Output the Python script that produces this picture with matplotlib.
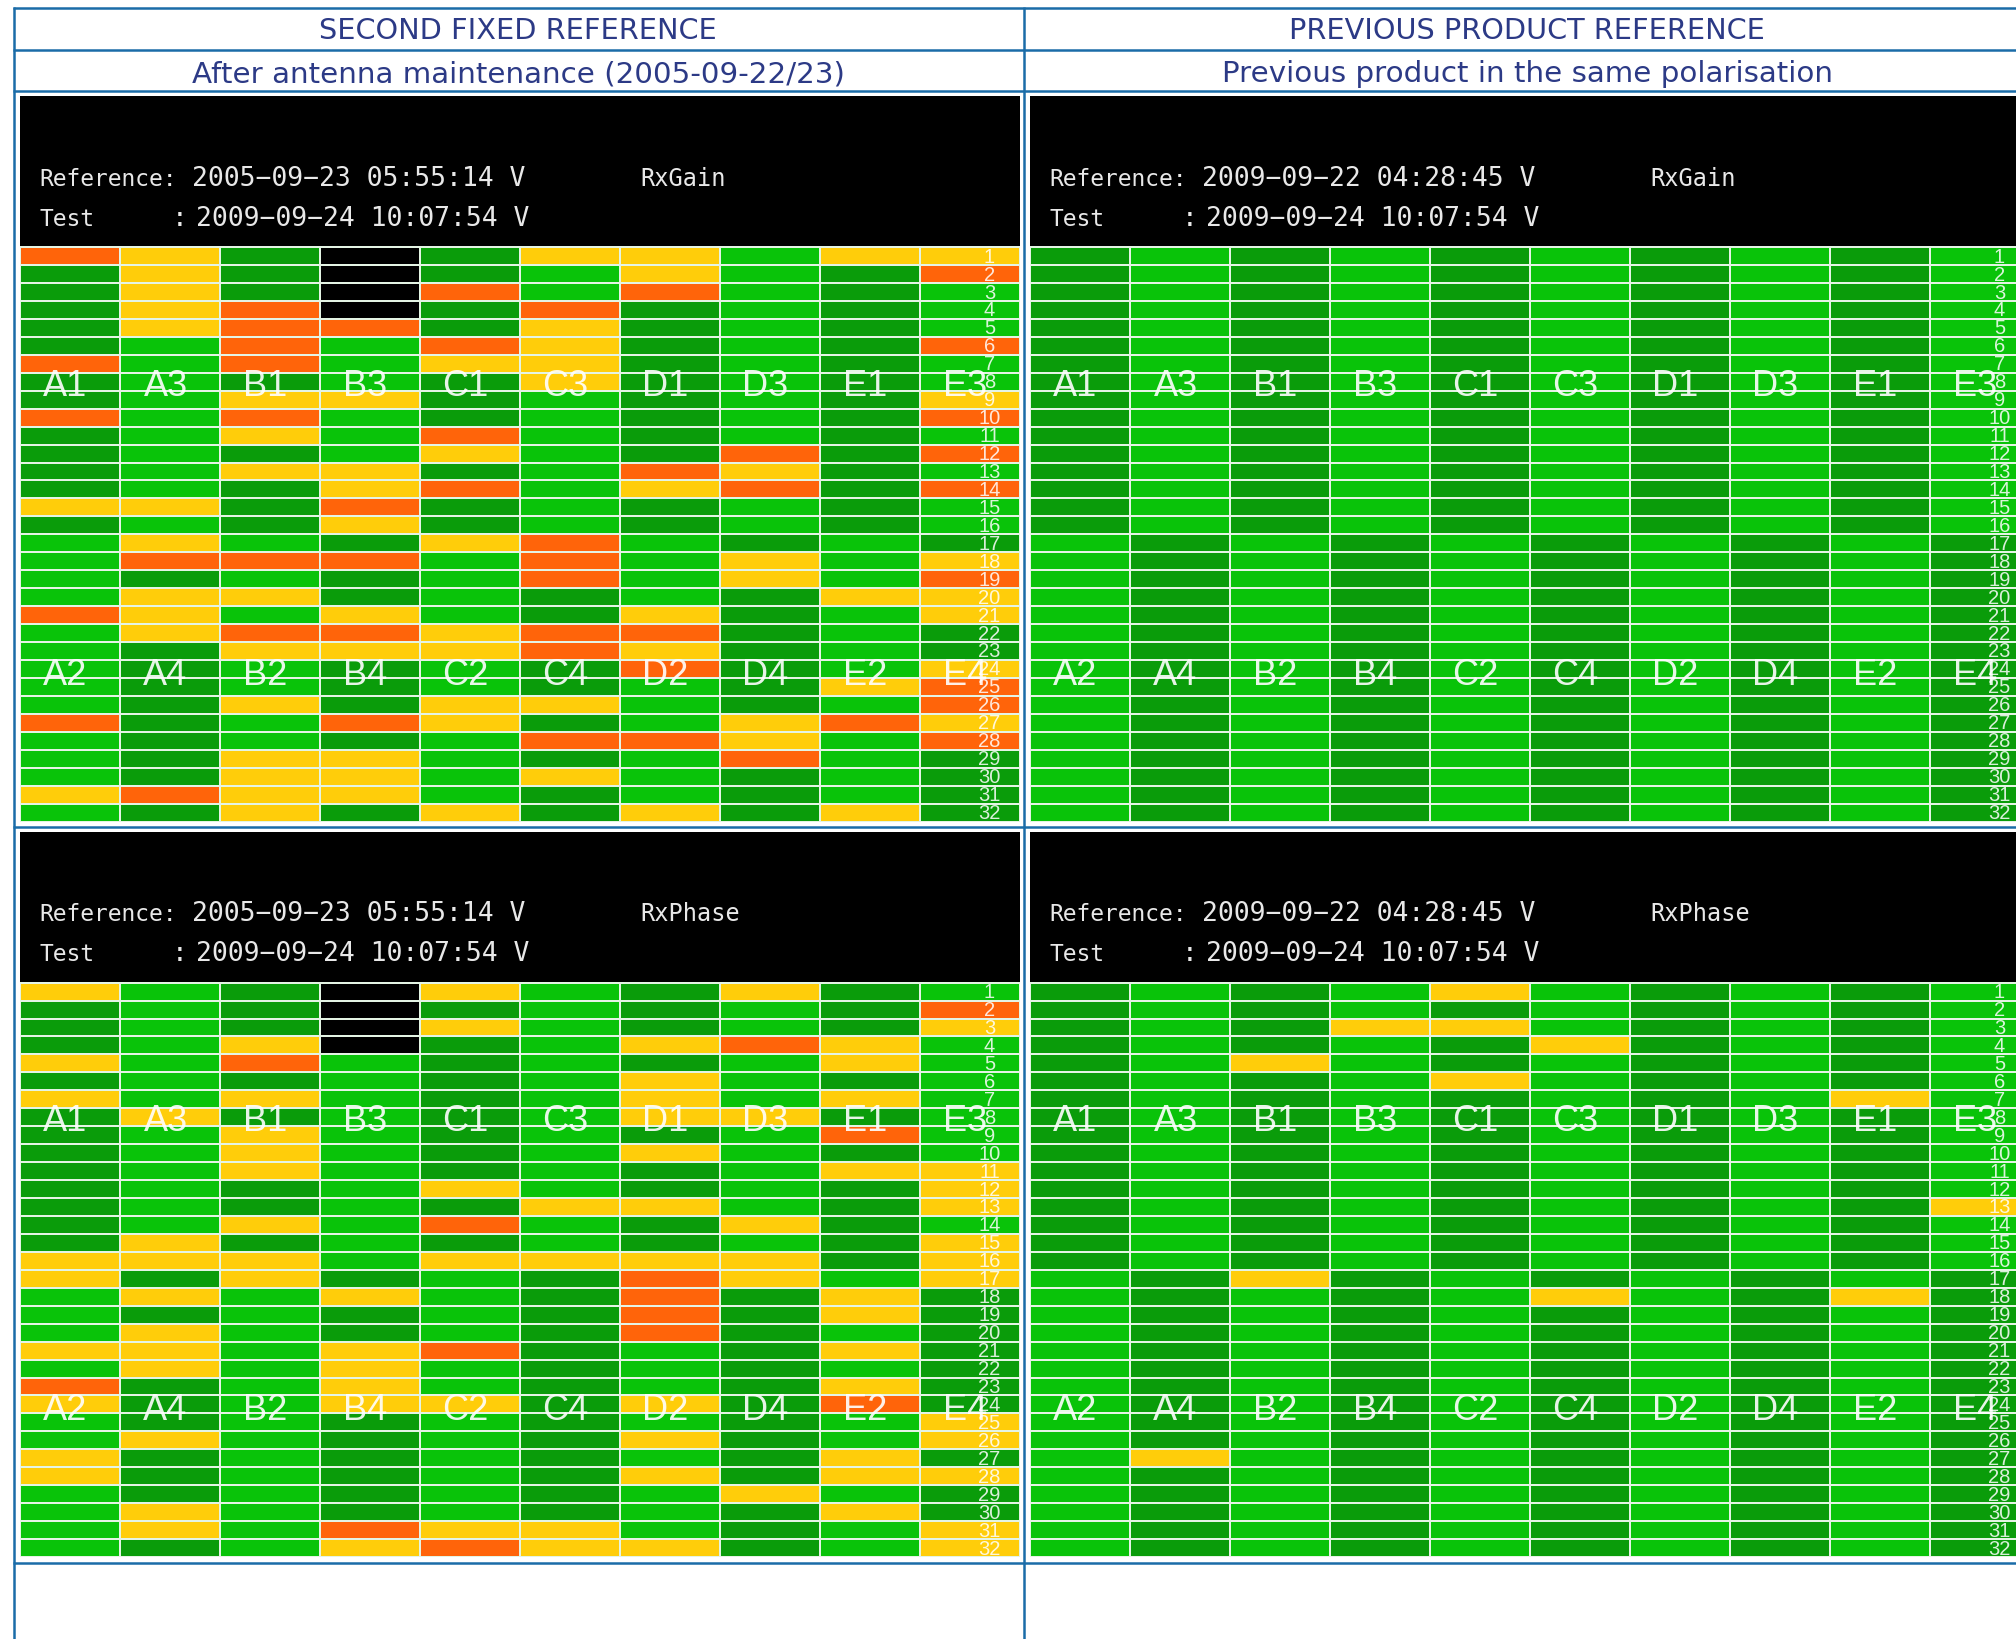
import numpy as np
import matplotlib
matplotlib.use('Agg')
import matplotlib.pyplot as plt
from matplotlib.colors import ListedColormap

# . = ok (green), y = yellow, o = orange, k = no data
gain_second = [
    "oy.k.yy.yy", ".y.k..y..o", ".y.ko.o...", ".yok.o....",
    ".yoo.y....", "..o.oy...o", "o.o.yy....", ".....y....",
    "..yy.....y", "o.o......o", "..y.o.....", "....y..o.o",
    "..yy..oy..", "...yo.yo.o", "yy.o......", "...y......",
    ".y..yo....", ".ooo.o.y.y", ".....o.y.o", ".yy.....yy",
    "oy.y..y..y", ".yooyoo...", "..yyyoy...", "......o..y",
    "........yo", "..y.yy...o", "o..oy..yoy", ".....ooy.o",
    "..yy...o..", "..yy.y....", "yoyy......", "..y.y.y.y.",
]
gain_previous = [".........."] * 32
phase_second = [
    "y..ky..y..", "...k.....o", "...ky....y", "..yk..yoy.",
    "y.o.....y.", "......y...", "y.y...y.y.", ".y....yy..",
    "..y.....o.", "..y...y...", "..y.....yy", "....y....y",
    ".....yy..y", "..y.o..y..", ".y.......y", "yyy.yyyy.y",
    "y.y...oy.y", ".y.y..o.y.", "......o.y.", ".y....o...",
    "yy.yo...y.", ".y.y......", "o..y....y.", "y..yy.y.o.",
    ".........y", ".y....y..y", "y.......y.", "y.....y.yy",
    ".......y..", ".y......y.", ".y.oyy...y", "...yoyy..y",
]
phase_previous = [
    "....y.....", "..........", "...yy.....", ".....y....",
    "..y.......", "....y.....", "........y.", "..........",
    "..........", "..........", "..........", "..........",
    ".........y", "..........", "..........", "..........",
    "..y.......", ".....y..y.", "..........", "..........",
    "..........", "..........", "..........", "..........",
    "..........", "..........", ".y........", "..........",
    "..........", "..........", "..........", "..........",
]

upper_labels = ['A1', 'A3', 'B1', 'B3', 'C1', 'C3', 'D1', 'D3', 'E1', 'E3']
lower_labels = ['A2', 'A4', 'B2', 'B4', 'C2', 'C4', 'D2', 'D4', 'E2', 'E4']
row_numbers = list(range(1, 33))

col_titles = ['SECOND FIXED REFERENCE', 'PREVIOUS PRODUCT REFERENCE']
col_subtitles = ['After antenna maintenance (2005-09-22/23)',
                 'Previous product in the same polarisation']
ref_times = ['2005\u221209\u221223 05:55:14 V', '2009\u221209\u221222 04:28:45 V']
test_time = '2009\u221209\u221224 10:07:54 V'
products = ['RxGain', 'RxPhase']

W, H = 2016, 1640
BLUE = '#1a6ca8'
NAVY = '#2c3a86'
cmap = ListedColormap(['#0a9c0a', '#09c309', '#ffcd0a', '#ff640a', '#000000'])
codes = {'y': 2, 'o': 3, 'k': 4}


def to_grid(rows):
    grid = np.zeros((32, 10), dtype=int)
    for r, row in enumerate(rows):
        for c, ch in enumerate(row):
            if ch == '.':
                # the green shade alternates per antenna tile, and flips at row 17
                grid[r, c] = (c + (r >= 16)) % 2
            else:
                grid[r, c] = codes[ch]
    return grid


def draw_panel(fig, rows, x0, y0):
    # panel is 1000 px wide, 151 px black band on top of a 574 px grid
    ax = fig.add_axes([x0 / W, 1 - (y0 + 725.5) / H, 1000 / W, 725.5 / H])
    ax.set_facecolor('black')
    ax.pcolormesh(np.arange(11), np.arange(33), to_grid(rows), cmap=cmap, vmin=0, vmax=4,
                  edgecolors='#e4f4e4', linewidth=1.3)
    ax.set_xlim(0, 10)
    ax.set_ylim(32, -8.42)
    ax.set_xticks([])
    ax.set_yticks([])
    for s in ax.spines.values():
        s.set_visible(False)
    for i in range(10):
        ax.text(i + 0.46, 7.7, upper_labels[i], color='white', fontsize=26, ha='center',
                va='center', family='Liberation Sans', alpha=0.9)
        ax.text(i + 0.46, 23.8, lower_labels[i], color='white', fontsize=26, ha='center',
                va='center', family='Liberation Sans', alpha=0.9)
    for n in row_numbers:
        ax.text(9.7, n - 0.5, str(n), color='white', fontsize=14.5, ha='center',
                va='center', family='Liberation Sans', alpha=0.85)


fig = plt.figure(figsize=(W / 100, H / 100), dpi=100, facecolor='white')

draw_panel(fig, gain_second, 19.5, 97)
draw_panel(fig, gain_previous, 1029.5, 97)
draw_panel(fig, phase_second, 19.5, 832.5)
draw_panel(fig, phase_previous, 1029.5, 832.5)

# page table and text, in pixel coordinates
page = fig.add_axes([0, 0, 1, 1], facecolor='none')
page.set_xlim(0, W)
page.set_ylim(H, 0)
page.axis('off')
page.hlines([8.5, 50.5, 92, 828, 1564], 13, W, color=BLUE, linewidth=1.8)
page.vlines([14, 1024], 8, H, color=BLUE, linewidth=1.8)

for i, x in enumerate([518, 1527]):
    page.text(x, 31, col_titles[i], color=NAVY, fontsize=20.7, ha='center', va='center',
              family='DejaVu Sans')
    page.text(x, 74, col_subtitles[i], color=NAVY, fontsize=21.2, ha='center', va='center',
              family='DejaVu Sans')

for j, dy in enumerate([0, 735.5]):
    for i, dx in enumerate([0, 1010]):
        page.text(39 + dx, 179 + dy, 'Reference:', color='#e8e8e8', fontsize=16.5, va='center',
                  family='DejaVu Sans Mono')
        page.text(192 + dx, 179 + dy, ref_times[i], color='#e8e8e8', fontsize=19, va='center',
                  family='DejaVu Sans Mono')
        page.text(39 + dx, 219 + dy, 'Test', color='#e8e8e8', fontsize=16.5, va='center',
                  family='DejaVu Sans Mono')
        page.text(172 + dx, 219 + dy, ':', color='#e8e8e8', fontsize=19, va='center',
                  family='DejaVu Sans Mono')
        page.text(196 + dx, 219 + dy, test_time, color='#e8e8e8', fontsize=19, va='center',
                  family='DejaVu Sans Mono')
        page.text(640 + dx, 179 + dy, products[j], color='#e8e8e8', fontsize=17, va='center',
                  family='DejaVu Sans Mono')

fig.savefig('out.png', dpi=100)
